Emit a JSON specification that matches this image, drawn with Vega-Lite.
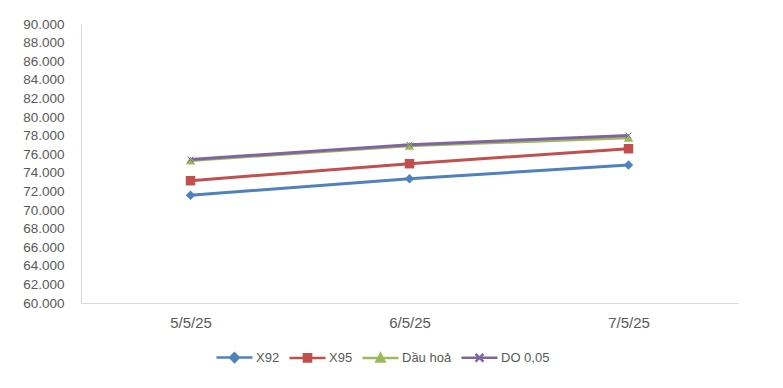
{
  "$schema": "https://vega.github.io/schema/vega-lite/v6.json",
  "autosize": {"type": "none"},
  "width": 657,
  "height": 279,
  "padding": {"left": 81, "top": 24, "right": 45, "bottom": 85},
  "background": "white",
  "config": {
    "view": {"stroke": null},
    "font": "Liberation Sans",
    "axis": {"labelFont": "Liberation Sans", "labelColor": "#595959", "labelFontSize": 13.5, "grid": false, "ticks": false, "domainColor": "#d9d9d9", "domainWidth": 1, "title": null},
    "legend": {"labelFont": "Liberation Sans", "labelColor": "#595959", "labelFontSize": 13}
  },
  "data": {
    "values": [
      {"date": "5/5/25", "series": "X92", "price": 71580},
      {"date": "6/5/25", "series": "X92", "price": 73370},
      {"date": "7/5/25", "series": "X92", "price": 74840},
      {"date": "5/5/25", "series": "X95", "price": 73150},
      {"date": "6/5/25", "series": "X95", "price": 74980},
      {"date": "7/5/25", "series": "X95", "price": 76590},
      {"date": "5/5/25", "series": "Dầu hoả", "price": 75330},
      {"date": "6/5/25", "series": "Dầu hoả", "price": 76910},
      {"date": "7/5/25", "series": "Dầu hoả", "price": 77770},
      {"date": "5/5/25", "series": "DO 0,05", "price": 75430},
      {"date": "6/5/25", "series": "DO 0,05", "price": 77020},
      {"date": "7/5/25", "series": "DO 0,05", "price": 78020}
    ]
  },
  "encoding": {
    "x": {
      "field": "date", "type": "ordinal", "sort": ["5/5/25", "6/5/25", "7/5/25"],
      "scale": {"type": "point", "padding": 0.5},
      "axis": {"labelAngle": 0, "labelPadding": 12, "labelFontSize": 15}
    },
    "y": {
      "field": "price", "type": "quantitative",
      "scale": {"domain": [60000, 90000], "nice": false, "zero": false},
      "axis": {
        "values": [60000, 62000, 64000, 66000, 68000, 70000, 72000, 74000, 76000, 78000, 80000, 82000, 84000, 86000, 88000, 90000],
        "labelExpr": "replace(format(datum.value, ',.0f'), ',', '.')",
        "labelPadding": 17
      }
    }
  },
  "layer": [
    {
      "mark": {"type": "line", "strokeWidth": 3},
      "encoding": {
        "color": {
          "field": "series", "type": "nominal",
          "scale": {"domain": ["X92", "X95", "Dầu hoả", "DO 0,05"], "range": ["#4F81BD", "#C0504D", "#9BBB59", "#8064A2"]},
          "legend": {
            "orient": "none", "legendX": 134, "legendY": 314, "direction": "horizontal", "title": null,
            "symbolType": "M-1,0H1", "symbolSize": 1300, "symbolStrokeWidth": 2.5, "labelOffset": 2, "columnPadding": 4,
            "encode": {
              "symbols": {
                "update": {
                  "shape": {"signal": "datum.value === 'X92' ? 'M-1,0H1M0,-0.24L0.24,0L0,0.24L-0.24,0Z' : datum.value === 'X95' ? 'M-1,0H1M-0.2,-0.2H0.2V0.2H-0.2Z' : datum.value === 'Dầu hoả' ? 'M-1,0H1M0,-0.22L0.22,0.2H-0.22Z' : 'M-1,0H1M-0.22,-0.22L0.22,0.22M-0.22,0.22L0.22,-0.22'"},
                  "fill": {"signal": "datum.value === 'DO 0,05' ? 'transparent' : scale('color', datum.value)"},
                  "stroke": {"signal": "scale('color', datum.value)"},
                  "strokeWidth": {"value": 2.5}
                }
              }
            }
          }
        }
      }
    },
    {
      "transform": [{"filter": "datum.series === 'X92'"}],
      "mark": {"type": "point", "shape": "diamond", "filled": true, "opacity": 1, "size": 90, "color": "#4F81BD"}
    },
    {
      "transform": [{"filter": "datum.series === 'X95'"}],
      "mark": {"type": "point", "shape": "square", "filled": true, "opacity": 1, "size": 90, "color": "#C0504D"}
    },
    {
      "transform": [{"filter": "datum.series === 'Dầu hoả'"}],
      "mark": {"type": "point", "shape": "triangle-up", "filled": true, "opacity": 1, "size": 90, "color": "#9BBB59"}
    },
    {
      "transform": [{"filter": "datum.series === 'DO 0,05'"}],
      "mark": {"type": "point", "shape": "M-0.6,-0.6L0.6,0.6M-0.6,0.6L0.6,-0.6", "filled": false, "opacity": 1, "size": 90, "strokeWidth": 1, "color": "#8064A2"}
    }
  ]
}
